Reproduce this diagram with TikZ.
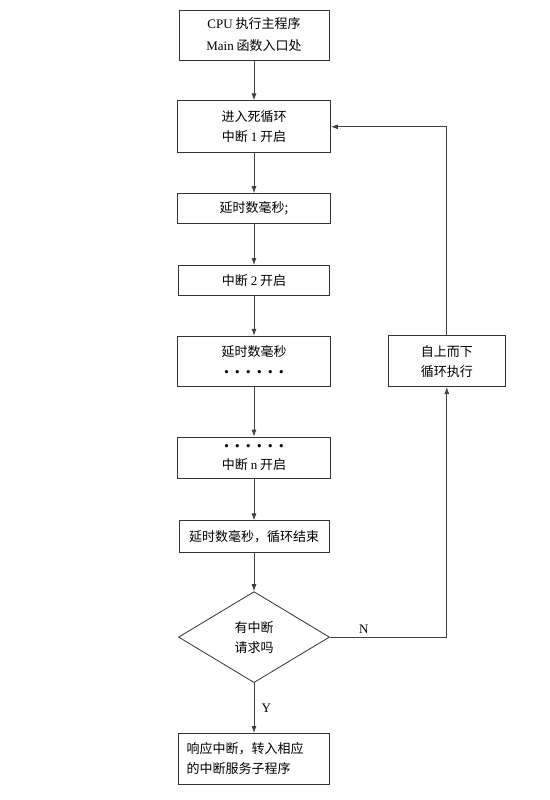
\documentclass[tikz,border=0pt]{standalone}
\usepackage{fontspec}
\setmainfont{Noto Sans CJK SC}
\newfontfamily\latin{Liberation Serif}
\usetikzlibrary{positioning,shapes.geometric,arrows.meta}

\tikzset{
  stepbox/.style={draw=black!80,line width=0.8pt,inner sep=0pt,align=center,minimum width=153pt},
  askbox/.style={draw=black!80,line width=0.8pt,diamond,aspect=1.66,inner sep=0pt,
    minimum width=151pt,minimum height=91pt,align=center},
  flow/.style={->,draw=black!75,line width=0.8pt}
}
\newcommand{\gapdots}{\raisebox{3pt}{\latin\bfseries\fontsize{20pt}{20pt}\selectfont
  .\hspace{6pt}.\hspace{6pt}.\hspace{6pt}.\hspace{6pt}.\hspace{6pt}.}}

\begin{document}
\begin{tikzpicture}[x=1pt,y=1pt,font=\fontsize{13pt}{20pt}\selectfont,>={Latex[length=7pt,width=5pt]}]
  \useasboundingbox[fill=white] (0,0) rectangle (549,-800);
  \node[stepbox,minimum width=150pt,minimum height=50pt] (start) at (254,-35)
    {{\latin CPU} 执行主程序\\[2pt]{\latin Main} 函数入口处};
  \node[stepbox,below=40pt of start,minimum height=52pt] (loopin) {进入死循环\\中断 {\latin 1} 开启};
  \node[stepbox,below=40pt of loopin,minimum height=30pt] (wait1) {延时数毫秒;};
  \node[stepbox,below=41pt of wait1,minimum width=151pt,minimum height=30pt] (int2) {中断 {\latin 2} 开启};
  \node[stepbox,below=40pt of int2,minimum height=50pt] (wait2) {延时数毫秒\\\gapdots};
  \node[stepbox,below=50pt of wait2,minimum height=41pt] (intn) {\gapdots\\[-1pt]中断 {\latin n} 开启};
  \node[stepbox,below=42pt of intn,minimum width=150pt,minimum height=32pt] (waitend) {延时数毫秒，循环结束};
  \node[askbox,below=38pt of waitend] (ask) {有中断\\请求吗};
  \node[stepbox,below=50pt of ask,minimum width=151pt,minimum height=51pt,
    text width=135pt,inner xsep=8pt,align=left] (isr) {响应中断，转入相应\\的中断服务子程序};
  \node[stepbox,right=57pt of wait2,minimum width=117pt,minimum height=51pt] (again) {自上而下\\循环执行};
  \draw[flow] (start) -- (loopin);
  \draw[flow] (loopin) -- (wait1);
  \draw[flow] (wait1) -- (int2);
  \draw[flow] (int2) -- (wait2);
  \draw[flow] (wait2) -- (intn);
  \draw[flow] (intn) -- (waitend);
  \draw[flow] (waitend) -- (ask);
  \draw[flow] (ask) -- node[right=4pt]{\latin Y} (isr);
  \draw[flow] (ask.east) -| node[above,pos=0.145]{\latin N} (again.south);
  \draw[flow] (again.north) |- (loopin.east);
\end{tikzpicture}
\end{document}
